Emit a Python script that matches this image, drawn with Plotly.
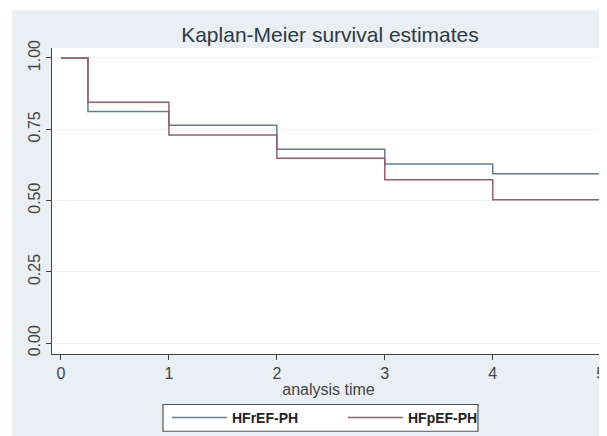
import plotly.graph_objects as go

time = [0, 0.25, 1, 2, 3, 4, 5]
hfref = [1.0, 0.812, 0.764, 0.68, 0.628, 0.594, 0.578]
hfpef = [1.0, 0.845, 0.73, 0.648, 0.573, 0.503, 0.475]
series_names = ["HFrEF-PH", "HFpEF-PH"]
x_ticks = [0, 1, 2, 3, 4, 5]
y_ticks = [0, 0.25, 0.5, 0.75, 1.0]
y_labels = ["0.00", "0.25", "0.50", "0.75", "1.00"]

fig = go.Figure()
fig.add_trace(go.Scatter(x=time, y=hfref, mode="lines", line=dict(shape="hv", color="#5f7f96", width=1.5),
                         name="<b>" + series_names[0] + "</b>"))
fig.add_trace(go.Scatter(x=time, y=hfpef, mode="lines", line=dict(shape="hv", color="#9a5d6c", width=1.5),
                         name="<b>" + series_names[1] + "</b>"))

# page has an 8px body margin; work in figure pixel coords
OFF = 8
W, H = 607 - OFF, 436 - OFF
L, R, T, B = 52 - OFF, 605 - OFF, 48 - OFF, 357 - OFF
pw, ph = R - L, B - T


def px(x):
    return (x - OFF - L) / pw


def py(y):
    return (B - (y - OFF)) / ph


# outer gray frame and white plot area
fig.add_shape(type="rect", xref="paper", yref="paper", layer="below",
              x0=px(12), x1=px(620), y0=py(450), y1=py(10),
              fillcolor="#e9eff2", line=dict(width=0))
fig.add_shape(type="rect", xref="paper", yref="paper", layer="below",
              x0=0, x1=1, y0=0, y1=1, fillcolor="white", line=dict(width=0))
# legend box
fig.add_shape(type="rect", xref="paper", yref="paper", layer="below",
              x0=px(163), x1=px(478), y0=py(435), y1=py(408),
              fillcolor="white", line=dict(width=1.2, color="#555555"))

fig.update_layout(
    width=W, height=H,
    margin=dict(l=L, r=W - R, t=T, b=H - B),
    paper_bgcolor="white", plot_bgcolor="white",
    font=dict(family="Arial, Liberation Sans, sans-serif", color="#333333"),
    title=dict(text="Kaplan-Meier survival estimates", x=px(330), xref="paper", xanchor="center",
               y=1 - (35 - OFF) / H, yanchor="middle", font=dict(size=21, color="#2e3a44")),
    showlegend=True,
    legend=dict(orientation="h", x=px(167), xanchor="left", y=py(421.5), yanchor="middle",
                bgcolor="rgba(0,0,0,0)", borderwidth=0, itemwidth=55,
                font=dict(size=14, color="#222222"), entrywidth=106, entrywidthmode="pixels"),
    xaxis=dict(range=[-0.083, 5.04], tickvals=x_ticks, ticks="outside", ticklen=5, tickcolor="#444",
               showline=True, linecolor="#444444", linewidth=1, showgrid=False, zeroline=False,
               tickfont=dict(size=16, color="#444"),
               title=dict(text="analysis time", font=dict(size=16, color="#444"), standoff=2)),
    yaxis=dict(range=[-0.038, 1.035], tickvals=y_ticks, ticktext=y_labels, ticks="outside", ticklen=5,
               tickcolor="#444", tickangle=-90,
               showline=True, linecolor="#444444", linewidth=1, showgrid=True, gridcolor="#eef2f4",
               zeroline=False, tickfont=dict(size=16, color="#444")),
)

fig.write_html("out.html")
